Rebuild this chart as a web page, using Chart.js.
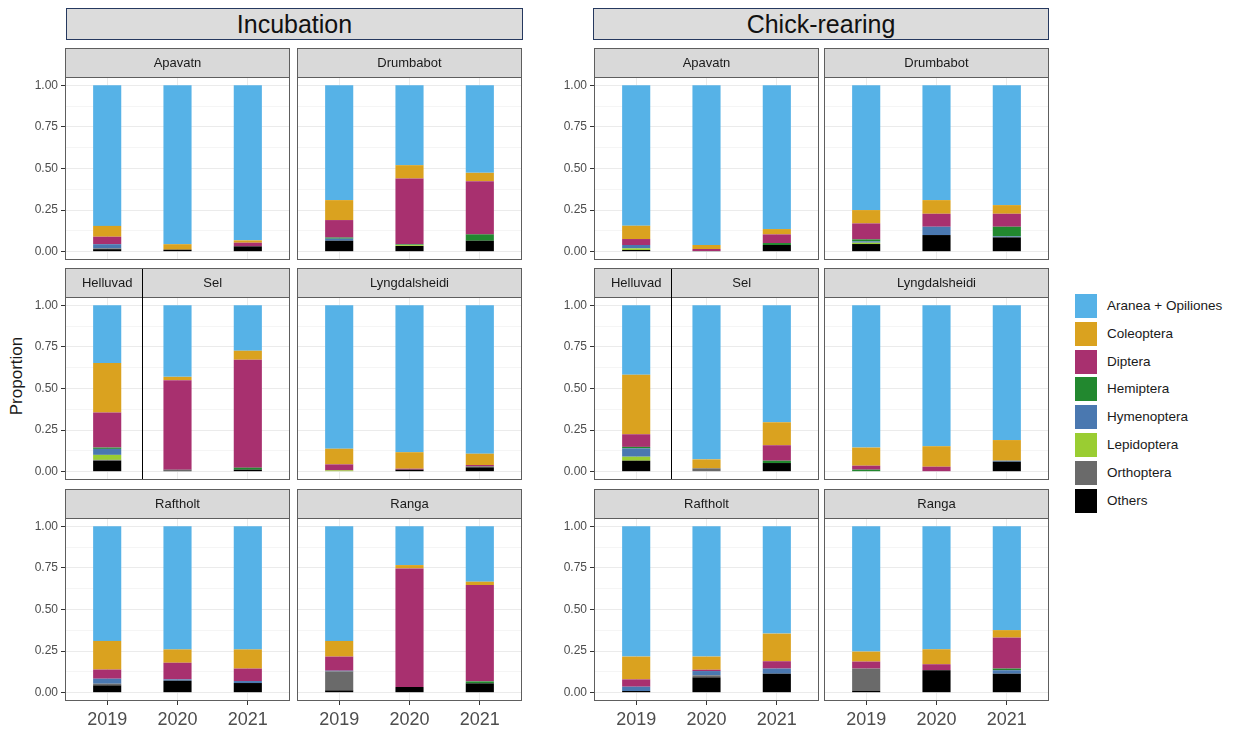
<!DOCTYPE html>
<html>
<head>
<meta charset="utf-8">
<script src="https://cdn.jsdelivr.net/npm/chart.js@4.4.1/dist/chart.umd.min.js"></script>
<style>
  body { margin: 0; width: 1238px; height: 731px; background: #fff; position: relative; overflow: hidden;
         font-family: 'Liberation Sans', Arial, sans-serif; }
  canvas { position: absolute; }
  .group { position: absolute; top: 8px; height: 30px; background: #dcdcdc; border: 1px solid #26395f;
           font-size: 25px; line-height: 30px; text-align: center; color: #111; }
  .ylab { position: absolute; left: 17px; top: 376px; transform: translate(-50%, -50%) rotate(-90deg);
          font-size: 17px; color: #1a1a1a; white-space: nowrap; }
  .key { position: absolute; left: 1075px; width: 22px; height: 24px; }
  .ktxt { position: absolute; left: 1107px; font-size: 13.5px; color: #1a1a1a; line-height: 24px; white-space: nowrap; }
</style>
</head>
<body>
<div class="group" style="left:66px;width:455px;">Incubation</div>
<div class="group" style="left:593px;width:454px;">Chick-rearing</div>
<div class="ylab">Proportion</div>
<div id="legend"></div>

<script>
// Years on the x axis of every facet
const years = [2019, 2020, 2021];

// Prey groups, listed from the bottom of each stack to the top
const taxa = ['Others', 'Orthoptera', 'Lepidoptera', 'Hymenoptera', 'Hemiptera', 'Diptera', 'Coleoptera', 'Aranea + Opiliones'];
const taxaColors = ['#000000', '#6a6a6a', '#9acd32', '#4a78b0', '#22882f', '#a8306f', '#daa21f', '#56b2e7'];

// Legend order (top to bottom)
const legendOrder = ['Aranea + Opiliones', 'Coleoptera', 'Diptera', 'Hemiptera', 'Hymenoptera', 'Lepidoptera', 'Orthoptera', 'Others'];

// y axis breaks
const yMajor = [0, 0.25, 0.5, 0.75, 1.0];
const yMinor = [0.125, 0.375, 0.625, 0.875];

// Proportions per site: one row per prey group (same order as taxa), columns = 2019, 2020, 2021
// ---- Incubation ----
const incApavatn = [
  [0.015, 0.012, 0.032],
  [0.005, 0.000, 0.000],
  [0.000, 0.000, 0.000],
  [0.025, 0.000, 0.000],
  [0.000, 0.000, 0.000],
  [0.045, 0.000, 0.022],
  [0.065, 0.033, 0.014],
  [0.845, 0.955, 0.932]
];
const incDrumbabot = [
  [0.066, 0.034, 0.066],
  [0.000, 0.000, 0.000],
  [0.000, 0.005, 0.000],
  [0.012, 0.000, 0.000],
  [0.007, 0.005, 0.038],
  [0.105, 0.396, 0.320],
  [0.120, 0.080, 0.050],
  [0.690, 0.480, 0.526]
];
// 2019 = Helluvad, 2020 and 2021 = Sel
const incHelluvadSel = [
  [0.066, 0.006, 0.012],
  [0.005, 0.006, 0.000],
  [0.030, 0.000, 0.000],
  [0.036, 0.000, 0.000],
  [0.008, 0.000, 0.012],
  [0.210, 0.538, 0.649],
  [0.298, 0.020, 0.054],
  [0.347, 0.430, 0.273]
];
const incLyngdalsheidi = [
  [0.000, 0.012, 0.026],
  [0.000, 0.000, 0.006],
  [0.008, 0.000, 0.000],
  [0.000, 0.000, 0.000],
  [0.000, 0.000, 0.000],
  [0.036, 0.006, 0.008],
  [0.094, 0.099, 0.068],
  [0.862, 0.883, 0.892]
];
const incRaftholt = [
  [0.044, 0.072, 0.058],
  [0.010, 0.000, 0.000],
  [0.000, 0.000, 0.000],
  [0.030, 0.008, 0.012],
  [0.000, 0.000, 0.000],
  [0.055, 0.100, 0.075],
  [0.172, 0.080, 0.115],
  [0.689, 0.740, 0.740]
];
const incRanga = [
  [0.014, 0.034, 0.056],
  [0.114, 0.000, 0.000],
  [0.000, 0.000, 0.000],
  [0.004, 0.000, 0.000],
  [0.000, 0.000, 0.012],
  [0.085, 0.713, 0.579],
  [0.094, 0.020, 0.020],
  [0.689, 0.233, 0.333]
];

// ---- Chick-rearing ----
const chkApavatn = [
  [0.010, 0.004, 0.040],
  [0.000, 0.000, 0.000],
  [0.010, 0.000, 0.000],
  [0.020, 0.000, 0.000],
  [0.000, 0.000, 0.012],
  [0.036, 0.012, 0.052],
  [0.080, 0.024, 0.032],
  [0.844, 0.960, 0.864]
];
const chkDrumbabot = [
  [0.046, 0.100, 0.086],
  [0.000, 0.000, 0.000],
  [0.008, 0.000, 0.000],
  [0.008, 0.050, 0.006],
  [0.012, 0.000, 0.058],
  [0.096, 0.078, 0.078],
  [0.080, 0.082, 0.052],
  [0.750, 0.690, 0.720]
];
// 2019 = Helluvad, 2020 and 2021 = Sel
const chkHelluvadSel = [
  [0.066, 0.000, 0.052],
  [0.000, 0.020, 0.000],
  [0.024, 0.000, 0.000],
  [0.050, 0.000, 0.000],
  [0.009, 0.000, 0.014],
  [0.076, 0.000, 0.093],
  [0.357, 0.054, 0.138],
  [0.418, 0.926, 0.703]
];
const chkLyngdalsheidi = [
  [0.000, 0.000, 0.060],
  [0.000, 0.000, 0.000],
  [0.000, 0.000, 0.000],
  [0.000, 0.000, 0.006],
  [0.012, 0.000, 0.000],
  [0.024, 0.030, 0.000],
  [0.109, 0.123, 0.124],
  [0.855, 0.847, 0.810]
];
const chkRaftholt = [
  [0.010, 0.092, 0.114],
  [0.000, 0.012, 0.000],
  [0.000, 0.000, 0.000],
  [0.026, 0.026, 0.031],
  [0.000, 0.000, 0.000],
  [0.044, 0.008, 0.044],
  [0.137, 0.079, 0.166],
  [0.783, 0.783, 0.645]
];
const chkRanga = [
  [0.010, 0.135, 0.114],
  [0.135, 0.000, 0.000],
  [0.000, 0.000, 0.000],
  [0.000, 0.000, 0.021],
  [0.000, 0.000, 0.010],
  [0.042, 0.036, 0.186],
  [0.060, 0.090, 0.045],
  [0.753, 0.739, 0.624]
];

// ---------------- layout ----------------
const FONT = "'Liberation Sans', Arial, sans-serif";
const PANEL_W = 225, STRIP_H = 29, PLOT_H = 183;
const PAD_L = 50, PAD_T = 2, PAD_R = 2, PAD_B = 40;
const colLefts = { inc: [65, 297], chk: [594, 824] };
const stripTops = [48, 268, 489];

const facets = [
  { g: 'inc', c: 0, r: 0, strips: [['Apavatn', 2020]], vals: incApavatn },
  { g: 'inc', c: 1, r: 0, strips: [['Drumbabot', 2020]], vals: incDrumbabot },
  { g: 'inc', c: 0, r: 1, strips: [['Helluvad', 2019], ['Sel', 2020.5]], split: 2019.5, vals: incHelluvadSel },
  { g: 'inc', c: 1, r: 1, strips: [['Lyngdalsheidi', 2020]], vals: incLyngdalsheidi },
  { g: 'inc', c: 0, r: 2, strips: [['Raftholt', 2020]], vals: incRaftholt },
  { g: 'inc', c: 1, r: 2, strips: [['Ranga', 2020]], vals: incRanga },
  { g: 'chk', c: 0, r: 0, strips: [['Apavatn', 2020]], vals: chkApavatn },
  { g: 'chk', c: 1, r: 0, strips: [['Drumbabot', 2020]], vals: chkDrumbabot },
  { g: 'chk', c: 0, r: 1, strips: [['Helluvad', 2019], ['Sel', 2020.5]], split: 2019.5, vals: chkHelluvadSel },
  { g: 'chk', c: 1, r: 1, strips: [['Lyngdalsheidi', 2020]], vals: chkLyngdalsheidi },
  { g: 'chk', c: 0, r: 2, strips: [['Raftholt', 2020]], vals: chkRaftholt },
  { g: 'chk', c: 1, r: 2, strips: [['Ranga', 2020]], vals: chkRanga }
];

const isMajor = v => Math.abs(v * 4 - Math.round(v * 4)) < 1e-9;

// Facet strip, panel border and the Helluvad | Sel divider
const facetPlugin = {
  id: 'facet',
  afterDraw(chart, args, o) {
    const { ctx, chartArea: a, scales: { x } } = chart;
    const L = Math.round(a.left), R = Math.round(a.right);
    const T = Math.round(a.top), B = Math.round(a.bottom);
    const st = T - STRIP_H;
    ctx.save();
    ctx.fillStyle = '#d9d9d9';
    ctx.fillRect(L, st, R - L, STRIP_H);
    ctx.strokeStyle = '#5e5e5e';
    ctx.lineWidth = 1;
    ctx.strokeRect(L + 0.5, st + 0.5, R - L - 1, B - st - 1);
    ctx.beginPath();
    ctx.moveTo(L, T + 0.5); ctx.lineTo(R, T + 0.5);
    ctx.stroke();
    if (o.split != null) {
      const sx = Math.round(x.getPixelForValue(o.split)) + 0.5;
      ctx.strokeStyle = '#000';
      ctx.beginPath();
      ctx.moveTo(sx, st + 1); ctx.lineTo(sx, B - 1);
      ctx.stroke();
    }
    ctx.fillStyle = '#1a1a1a';
    ctx.font = '13px ' + FONT;
    ctx.textAlign = 'center';
    ctx.textBaseline = 'middle';
    o.strips.forEach(([txt, at]) => ctx.fillText(txt, x.getPixelForValue(at), st + STRIP_H / 2 + 1));
    ctx.restore();
  }
};

facets.forEach(f => {
  const left = colLefts[f.g][f.c];
  const top = stripTops[f.r];
  const showY = f.c === 0;
  const showX = f.r === 2;
  const cv = document.createElement('canvas');
  const W = PAD_L + PANEL_W + PAD_R, H = PAD_T + STRIP_H + PLOT_H + PAD_B;
  cv.width = W; cv.height = H;
  cv.style.left = (left - PAD_L) + 'px';
  cv.style.top = (top - PAD_T) + 'px';
  cv.style.width = W + 'px'; cv.style.height = H + 'px';
  document.body.appendChild(cv);

  new Chart(cv, {
    type: 'bar',
    data: {
      labels: years,
      datasets: taxa.map((t, i) => ({
        label: t,
        data: f.vals[i],
        backgroundColor: taxaColors[i],
        borderWidth: 0,
        categoryPercentage: 1,
        barPercentage: 0.4
      }))
    },
    options: {
      responsive: false,
      animation: false,
      devicePixelRatio: 1,
      events: [],
      layout: { padding: { top: PAD_T + STRIP_H, right: PAD_R, left: 0, bottom: 0 } },
      plugins: {
        legend: { display: false },
        tooltip: { enabled: false },
        facet: { strips: f.strips, split: f.split }
      },
      scales: {
        x: {
          type: 'linear', stacked: true, min: 2018.4, max: 2021.6, offset: false,
          afterBuildTicks: s => { s.ticks = years.map(v => ({ value: v })); },
          afterFit: s => { s.height = PAD_B; },
          border: { display: false },
          grid: { offset: false, color: '#ebebeb', lineWidth: 1, drawTicks: showX, tickLength: 4, tickColor: '#333' },
          ticks: { display: showX, autoSkip: false, maxRotation: 0, padding: 4, color: '#4d4d4d',
                   font: { size: 18, family: FONT }, callback: v => String(v) }
        },
        y: {
          type: 'linear', stacked: true, min: -0.05, max: 1.05,
          afterBuildTicks: s => { s.ticks = yMajor.concat(yMinor).sort((a, b) => a - b).map(v => ({ value: v })); },
          afterFit: s => { s.width = PAD_L; },
          border: { display: false },
          grid: {
            color: c => isMajor(c.tick.value) ? '#ebebeb' : '#f5f5f5',
            lineWidth: 1, drawTicks: showY, tickLength: 4,
            tickColor: c => isMajor(c.tick.value) ? '#333' : 'rgba(0,0,0,0)'
          },
          ticks: { display: showY, autoSkip: false, padding: 3, color: '#4d4d4d',
                   font: { size: 12, family: FONT },
                   callback: v => isMajor(v) ? v.toFixed(2) : '' }
        }
      }
    },
    plugins: [facetPlugin]
  });
});

// Legend
const legend = document.getElementById('legend');
legendOrder.forEach((t, i) => {
  const y = 294 + i * 27.8;
  const k = document.createElement('div');
  k.className = 'key';
  k.style.top = y + 'px';
  k.style.background = taxaColors[taxa.indexOf(t)];
  legend.appendChild(k);
  const s = document.createElement('div');
  s.className = 'ktxt';
  s.style.top = y + 'px';
  s.textContent = t;
  legend.appendChild(s);
});
</script>
</body>
</html>
